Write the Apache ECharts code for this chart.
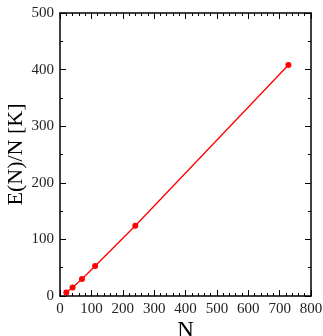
<!DOCTYPE html>
<html>
<head>
<meta charset="utf-8">
<script src="https://cdn.jsdelivr.net/npm/echarts@6/dist/echarts.min.js"></script>
<style>
  html, body { margin: 0; padding: 0; background: #fff; }
  #chart { width: 323px; height: 336px; }
</style>
</head>
<body>
<div id="chart"></div>
<script>
// Energy per particle against system size
const sizes = [20, 40, 70, 112, 240, 728];
const energyPerN = [6, 15, 30, 53, 124, 408];

const xTicks = { min: 0, max: 800, interval: 100, minorSplit: 5 };
const yTicks = { min: 0, max: 500, interval: 100, minorSplit: 2 };

const font = 'Liberation Serif';
const axisColor = '#000';

function baseAxis(t, showLabels, position) {
  return {
    type: 'value',
    min: t.min, max: t.max, interval: t.interval,
    position: position,
    axisLine: { show: true, onZero: false, lineStyle: { color: axisColor, width: 1.5 } },
    axisTick: { show: true, inside: true, length: 6, lineStyle: { color: axisColor, width: 1 } },
    minorTick: { show: true, splitNumber: t.minorSplit, length: 3, lineStyle: { color: axisColor, width: 1 } },
    splitLine: { show: false },
    axisLabel: { show: showLabels, fontFamily: font, fontSize: 15, color: '#222', margin: 6 }
  };
}

const chart = echarts.init(document.getElementById('chart'));
const xBottom = baseAxis(xTicks, true, 'bottom');
xBottom.name = 'N';
xBottom.nameLocation = 'middle';
xBottom.nameGap = 23;
xBottom.nameMoveOverlap = false;
xBottom.nameTextStyle = { fontFamily: font, fontSize: 23, color: '#000' };
const yLeft = baseAxis(yTicks, true, 'left');
yLeft.name = 'E(N)/N [K]';
yLeft.nameLocation = 'middle';
yLeft.nameGap = 33;
yLeft.nameMoveOverlap = false;
yLeft.nameTextStyle = { fontFamily: font, fontSize: 22, color: '#000' };

chart.setOption({
  animation: false,
  backgroundColor: '#fff',
  grid: { left: 60, right: 12, top: 13, bottom: 40, outerBoundsMode: 'none', containLabel: false },
  xAxis: [xBottom, baseAxis(xTicks, false, 'top')],
  yAxis: [yLeft, baseAxis(yTicks, false, 'right')],
  series: [{
    type: 'line',
    data: sizes.map((n, i) => [n, energyPerN[i]]),
    xAxisIndex: 0, yAxisIndex: 0,
    symbol: 'circle', symbolSize: 6,
    lineStyle: { color: '#ff0000', width: 1.3 },
    itemStyle: { color: '#ff0000' }
  }]
});
</script>
</body>
</html>
